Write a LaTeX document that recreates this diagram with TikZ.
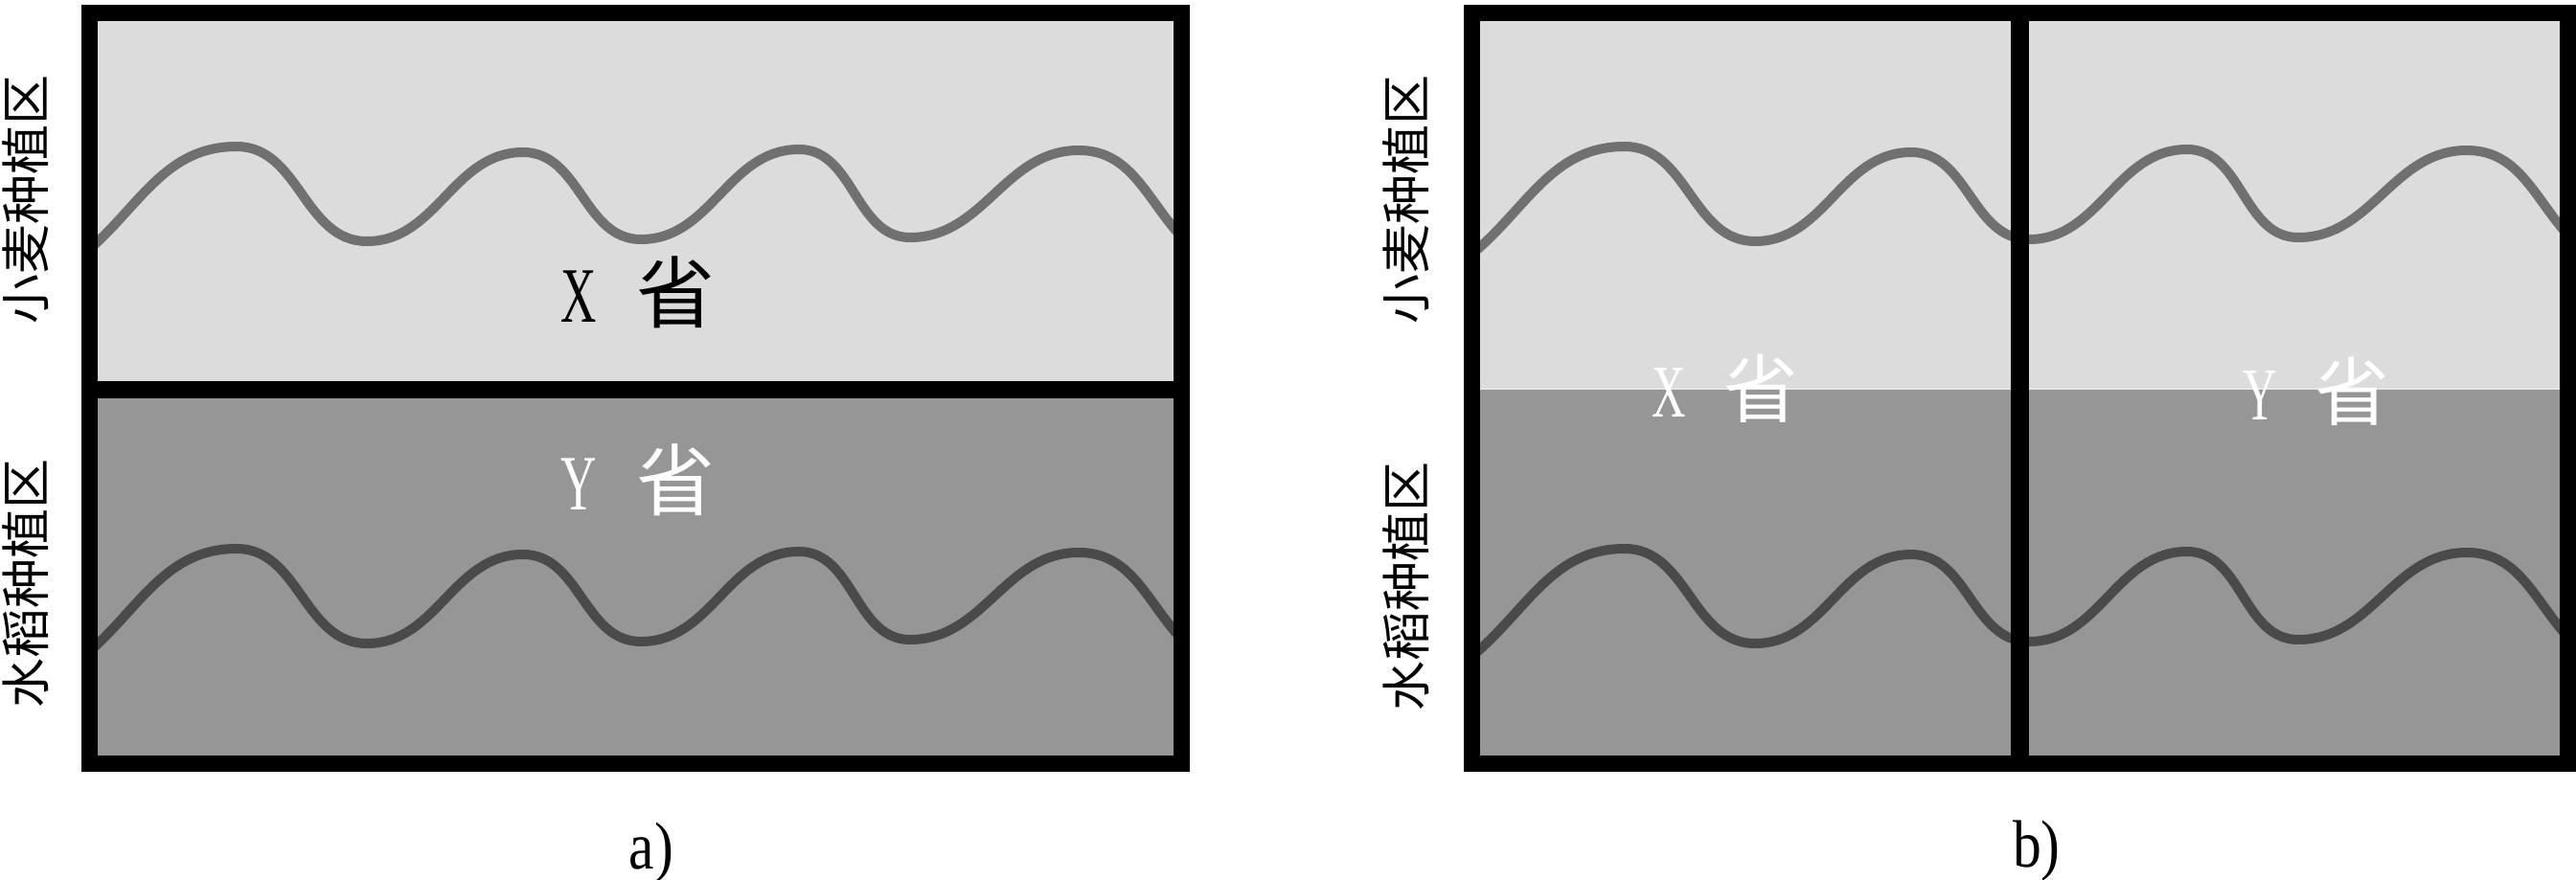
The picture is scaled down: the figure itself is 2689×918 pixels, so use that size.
\documentclass[tikz,border=0pt]{standalone}
\usepackage{fontspec}
\setmainfont{Liberation Serif}
\newfontfamily\cjk{Noto Sans CJK SC}
\definecolor{lightbg}{HTML}{DCDCDC}
\definecolor{darkbg}{HTML}{969696}
\definecolor{wavetop}{HTML}{707070}
\definecolor{wavebot}{HTML}{4A4A4A}
\definecolor{seam}{HTML}{E4E4E4}
\tikzset{
  wave/.pic={
    \path[pic actions] (88,653) to[out=40,in=180] (247,765)
      to[out=0,in=180] (383,666) to[out=0,in=180] (546,759)
      to[out=0,in=180] (669,668) to[out=0,in=180] (834,762)
      to[out=0,in=180] (950,670) to[out=0,in=180] (1126,761)
      to[out=0,in=132] (1232,672);
  },
  topwave/.style={draw=wavetop, line width=10pt},
  botwave/.style={draw=wavebot, line width=10pt},
  frame/.style={draw=black, line width=17pt},
  provtext/.style={inner sep=0pt, anchor=base, font=\fontsize{82}{82}\selectfont},
  provtextb/.style={inner sep=0pt, anchor=base, font=\fontsize{78}{78}\selectfont, text=white},
  sidelabel/.style={inner sep=0pt, rotate=90, font=\fontsize{52}{52}\selectfont\cjk},
  caption/.style={inner sep=0pt, anchor=base, font=\fontsize{70}{70}\selectfont},
}
\begin{document}
\begin{tikzpicture}[x=1pt,y=1pt]
\useasboundingbox (0,0) rectangle (2689,918);
% panel a fills
\fill[lightbg] (102,896) rectangle (1225,511);
\fill[darkbg] (102,511) rectangle (1225,129);
% panel b fills
\fill[lightbg] (1545,896) rectangle (2672,512);
\fill[darkbg] (1545,512) rectangle (2672,129);
\draw[seam, line width=2pt] (1545,512) -- (2672,512);
% waves a
\begin{scope}
  \clip (102,896) rectangle (1225,129);
  \pic[topwave] at (0,0) {wave};
  \pic[botwave] at (0,-420) {wave};
\end{scope}
% waves b
\begin{scope}
  \clip (1545,896) rectangle (2672,129);
  \pic[topwave] at (1449,0) {wave};
  \pic[botwave] at (1449,-420) {wave};
\end{scope}
% frames
\draw[frame] (93.5,904.5) rectangle (1233.5,120.5);
\draw[frame, line width=18pt] (93.5,511) -- (1233.5,511);
\draw[frame] (1536.5,904.5) rectangle (2680.5,120.5);
\draw[frame, line width=19pt] (2108,904.5) -- (2108,120.5);
% province labels
\node[provtext] (ax) at (666,581) {\scalebox{0.63}[1]{X}\hspace{42pt}{\cjk 省}};
\node[provtext, text=white] (ay) at (666,385) {\scalebox{0.63}[1]{Y}\hspace{42pt}{\cjk 省}};
\node[provtextb] (bx) at (1801,482) {\scalebox{0.63}[1]{X}\hspace{40pt}{\cjk 省}};
\node[provtextb] (by) at (2418,479) {\scalebox{0.63}[1]{Y}\hspace{40pt}{\cjk 省}};
% side labels
\node[sidelabel] (awheat) at (27,709) {小麦种植区};
\node[sidelabel] (arice) at (27,308) {水稻种植区};
\node[sidelabel] (bwheat) at (1468,709) {小麦种植区};
\node[sidelabel] (brice) at (1468,305) {水稻种植区};
% captions
\node[caption] (capa) at (680,11) {\scalebox{0.85}[1]{a)}};
\node[caption] (capb) at (2126,13) {\scalebox{0.85}[1]{b)}};
\end{tikzpicture}
\end{document}
